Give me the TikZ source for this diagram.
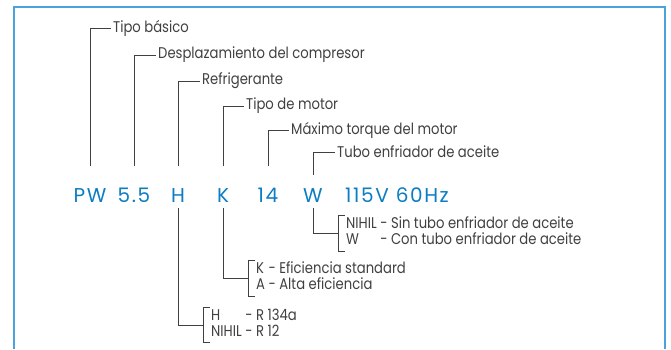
\documentclass[tikz,border=0pt]{standalone}
\usepackage{fontspec}
\setmainfont{Poppins}[FakeStretch=0.85]
\newfontfamily\codefont{Poppins}[LetterSpace=8]
\usepackage{xcolor}
\usetikzlibrary{positioning,calc}
\definecolor{codeblue}{HTML}{0B7DC3}
\definecolor{frameblue}{HTML}{4BA3DD}
\definecolor{txtgray}{HTML}{404040}

\begin{document}
\begin{tikzpicture}[x=1pt,y=-1pt,
  every node/.style={font=\fontsize{15.5}{16.5}\selectfont,text=txtgray},
  code/.style={font=\codefont\fontsize{20}{21}\selectfont,text=codeblue,inner sep=2pt,text height=14pt,text depth=0pt,anchor=base},
  lbl/.style={anchor=west,inner sep=2pt},
  opts/.style={anchor=west,align=left,inner xsep=8pt,inner ysep=1pt},
  conn/.style={draw=txtgray,line width=0.9pt}]
  \useasboundingbox (0,0) rectangle (671,349);
  \draw[frameblue,line width=1.6pt] (14,349) -- (14,7) -- (665,7) -- (665,349);
  % codigo del compresor
  \node[code] (pw) at (90,202) {PW};
  \node[code] (dsp) at (134,202) {5.5};
  \node[code] (h) at (178,202) {H};
  \node[code] (k) at (223,202) {K};
  \node[code] (tq) at (268,202) {14};
  \node[code] (w) at (313,202) {W};
  \node[code,anchor=base west] (volt) at (343,202) {115V 60Hz};
  % rotulos de arriba
  \node[lbl] (tipo) at (111,28) {Tipo básico};
  \node[lbl] (despl) at (156,55) {Desplazamiento del compresor};
  \node[lbl] (refr) at (200,81) {Refrigerante};
  \node[lbl] (mot) at (244,106) {Tipo de motor};
  \node[lbl] (torq) at (289,130) {Máximo torque del motor};
  \node[lbl] (tubo) at (335,152) {Tubo enfriador de aceite};
  \draw[conn,shorten <=20pt] (pw.north) |- (tipo.west); \draw[conn,shorten <=20pt] (dsp.north) |- (despl.west);
  \draw[conn,shorten <=20pt] (h.north) |- (refr.west); \draw[conn,shorten <=20pt] (k.north) |- (mot.west);
  \draw[conn,shorten <=20pt] (tq.north) |- (torq.west); \draw[conn,shorten <=11pt] (w.north) |- (tubo.west);
  % opciones de abajo
  \node[opts] (wopt) at (338,233) {\begin{tabular}{@{}l@{ - }l@{}}NIHIL & Sin tubo enfriador de aceite\\ W & Con tubo enfriador de aceite\end{tabular}};
  \node[opts] (kopt) at (248,278) {\begin{tabular}{@{}l@{ - }l@{}}K & Eficiencia standard\\ A & Alta eficiencia\end{tabular}};
  \node[opts] (hopt) at (203,325) {\begin{tabular}{@{}l@{ - }l@{}}H & R 134a\\ NIHIL & R 12\end{tabular}};
  \foreach \o in {wopt,kopt,hopt}
    \draw[conn] ([xshift=7pt]\o.north west) -- (\o.north west) -- (\o.south west) -- ([xshift=7pt]\o.south west);
  \draw[conn,shorten <=4pt] (w.south) |- (wopt.west); \draw[conn,shorten <=4pt] (k.south) |- (kopt.west);
  \draw[conn,shorten <=4pt] (h.south) |- (hopt.west);
\end{tikzpicture}
\end{document}
